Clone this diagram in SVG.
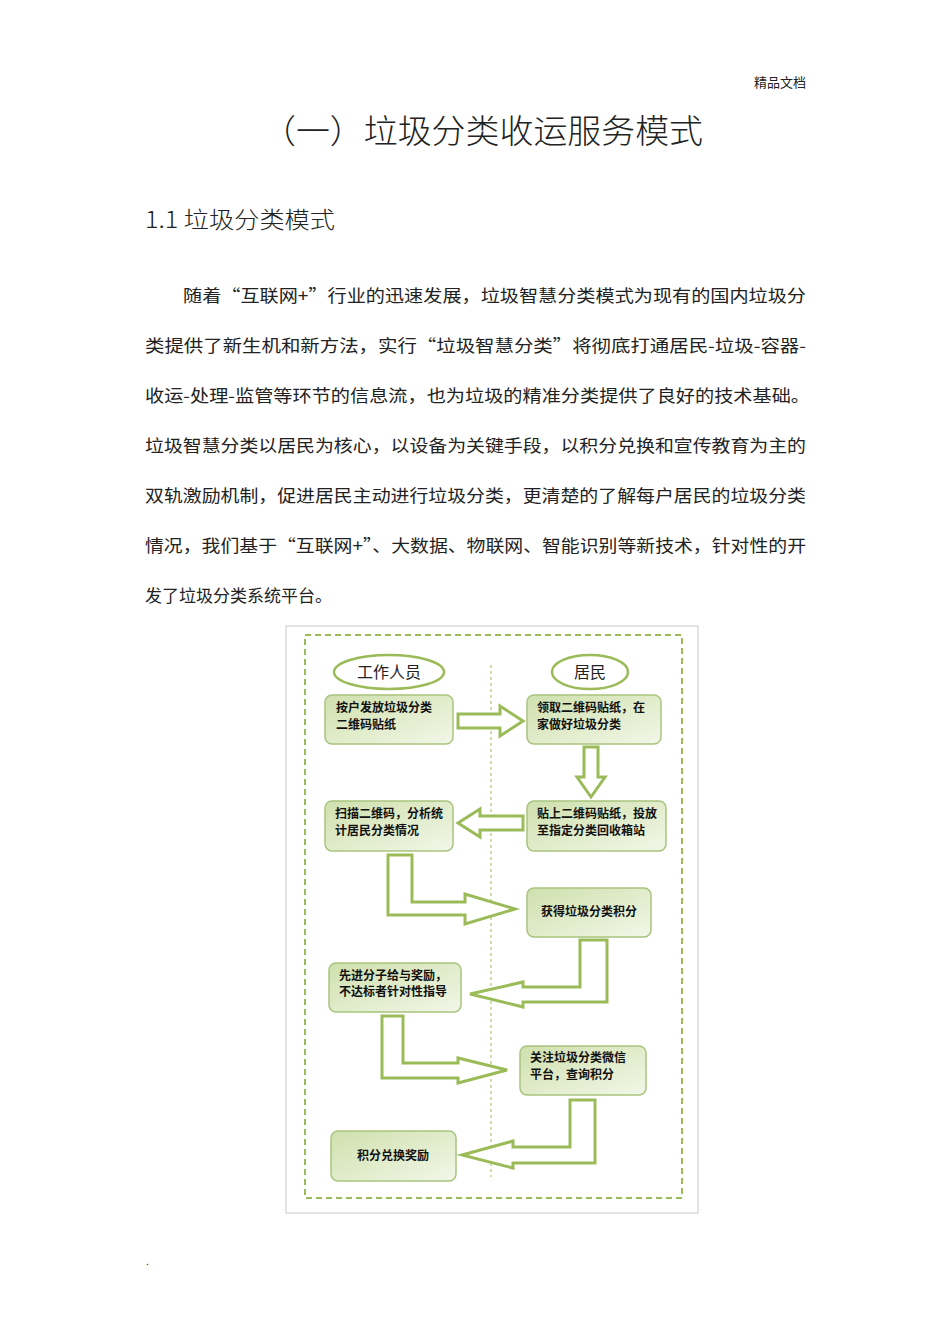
<svg xmlns="http://www.w3.org/2000/svg" width="950" height="1344" viewBox="0 0 950 1344">
<style>
text{font-family:"Noto Sans CJK SC","Liberation Sans",sans-serif;fill:#222}
.p{font-size:17px}
.bx{fill:url(#g);stroke:#a9c47f;stroke-width:1.5}
.bt{font-size:12px;font-weight:bold;fill:#111}
.ar{fill:#fff;stroke:#9bbb59;stroke-width:3;stroke-linejoin:miter}
</style>
<defs>
<linearGradient id="g" x1="0" y1="0" x2="1" y2="1"><stop offset="0" stop-color="#cfe0ad"/><stop offset="1" stop-color="#f2f7e8"/></linearGradient>
</defs>
<rect width="950" height="1344" fill="#fff"/>
<text x="806" y="87" font-size="13" text-anchor="end">精品文档</text>
<text x="262" y="143" font-size="33" font-weight="300" textLength="441" lengthAdjust="spacingAndGlyphs">（一）垃圾分类收运服务模式</text>
<text x="145" y="228" font-size="23" font-weight="300" textLength="190" lengthAdjust="spacingAndGlyphs">1.1 垃圾分类模式</text>
<text class="p" x="183" y="302" textLength="623" lengthAdjust="spacingAndGlyphs">随着“互联网+”行业的迅速发展，垃圾智慧分类模式为现有的国内垃圾分</text>
<text class="p" x="145" y="352" textLength="661" lengthAdjust="spacingAndGlyphs">类提供了新生机和新方法，实行“垃圾智慧分类”将彻底打通居民-垃圾-容器-</text>
<text class="p" x="145" y="402" textLength="665" lengthAdjust="spacingAndGlyphs">收运-处理-监管等环节的信息流，也为垃圾的精准分类提供了良好的技术基础。</text>
<text class="p" x="145" y="452" textLength="661" lengthAdjust="spacingAndGlyphs">垃圾智慧分类以居民为核心，以设备为关键手段，以积分兑换和宣传教育为主的</text>
<text class="p" x="145" y="502" textLength="661" lengthAdjust="spacingAndGlyphs">双轨激励机制，促进居民主动进行垃圾分类，更清楚的了解每户居民的垃圾分类</text>
<text class="p" x="145" y="552" textLength="661" lengthAdjust="spacingAndGlyphs">情况，我们基于“互联网+”、大数据、物联网、智能识别等新技术，针对性的开</text>
<text class="p" x="145" y="602">发了垃圾分类系统平台。</text>
<text x="146" y="1265" font-size="10">.</text>

<rect x="286" y="626" width="412" height="587" fill="#fff" stroke="#c8c8c8"/>
<rect x="305" y="635" width="377" height="563" fill="none" stroke="#9bbb59" stroke-width="2" stroke-dasharray="6,4"/>
<line x1="491" y1="665" x2="491" y2="1177" stroke="#9bbb59" stroke-dasharray="3,3"/>

<g id="lane-staff"><ellipse cx="389" cy="672" rx="55" ry="17" fill="#fff" stroke="#9bbb59" stroke-width="2.5"/><text x="389" y="678" font-size="16" text-anchor="middle">工作人员</text></g>
<g id="lane-resident"><ellipse cx="590" cy="672" rx="38" ry="17" fill="#fff" stroke="#9bbb59" stroke-width="2.5"/><text x="590" y="678" font-size="16" text-anchor="middle">居民</text></g>

<g id="n1"><rect class="bx" x="325" y="695" width="128" height="49" rx="7"/><text class="bt" x="336" y="712">按户发放垃圾分类</text><text class="bt" x="336" y="729">二维码贴纸</text></g>
<g id="n2"><rect class="bx" x="527" y="695" width="134" height="49" rx="7"/><text class="bt" x="537" y="712">领取二维码贴纸，在</text><text class="bt" x="537" y="729">家做好垃圾分类</text></g>
<g id="n3"><rect class="bx" x="527" y="801" width="139" height="50" rx="7"/><text class="bt" x="537" y="818">贴上二维码贴纸，投放</text><text class="bt" x="537" y="835">至指定分类回收箱站</text></g>
<g id="n4"><rect class="bx" x="325" y="801" width="128" height="50" rx="7"/><text class="bt" x="335" y="818">扫描二维码，分析统</text><text class="bt" x="335" y="835">计居民分类情况</text></g>
<g id="n5"><rect class="bx" x="527" y="888" width="124" height="49" rx="7"/><text class="bt" x="589" y="916" text-anchor="middle">获得垃圾分类积分</text></g>
<g id="n6"><rect class="bx" x="329" y="963" width="132" height="49" rx="7"/><text class="bt" x="339" y="980">先进分子给与奖励，</text><text class="bt" x="339" y="996">不达标者针对性指导</text></g>
<g id="n7"><rect class="bx" x="520" y="1046" width="126" height="49" rx="7"/><text class="bt" x="530" y="1062">关注垃圾分类微信</text><text class="bt" x="530" y="1079">平台，查询积分</text></g>
<g id="n8"><rect class="bx" x="331" y="1131" width="125" height="50" rx="7"/><text class="bt" x="393" y="1160" text-anchor="middle">积分兑换奖励</text></g>

<g id="connectors">
<polygon class="ar" points="458,714 500,714 500,706 523,721 500,736 500,728 458,728"/>
<polygon class="ar" points="584,747 598,747 598,777 605,777 591,797 577,777 584,777"/>
<polygon class="ar" points="523,816 480,816 480,809 458,823 480,837 480,830 523,830"/>
<polygon class="ar" points="388,855 412,855 412,902 465,902 465,894 515,909 465,924 465,915 388,915"/>
<polygon class="ar" points="607,940 607,1002 523,1002 523,1007 470,994 523,982 523,987 580,987 580,940"/>
<polygon class="ar" points="382,1016 403,1016 403,1063 458,1063 458,1058 507,1070 458,1083 458,1078 382,1078"/>
<polygon class="ar" points="595,1100 595,1163 513,1163 513,1168 462,1155 513,1141 513,1147 570,1147 570,1100"/>
</g>
</svg>
